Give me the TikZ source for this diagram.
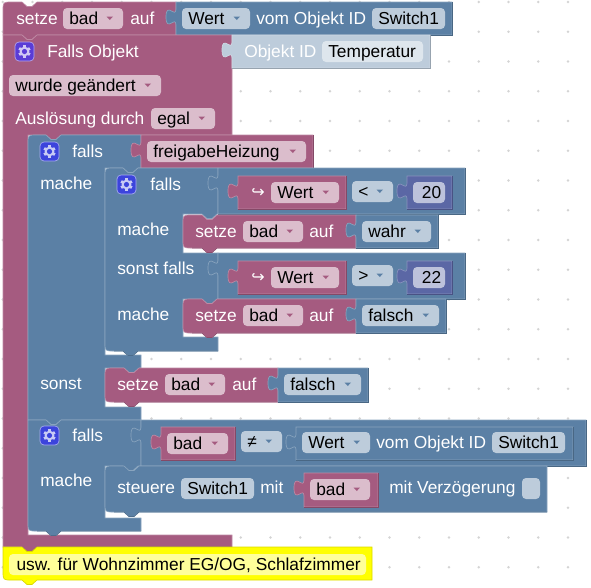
\documentclass[tikz,border=0pt]{standalone}
\usepackage{fontspec}
\setmainfont{Liberation Sans}
\newfontfamily\symfont{DejaVu Sans}
\definecolor{barMaroon}{HTML}{A55B80}
\definecolor{barBlue}{HTML}{5B80A5}
\definecolor{barNum}{HTML}{5B67A5}
\definecolor{barShadow}{HTML}{BDCCDB}
\definecolor{fldMaroon}{HTML}{DBBDCC}
\definecolor{fldBlue}{HTML}{BDCCDB}
\definecolor{fldShadow}{HTML}{DEE6ED}
\definecolor{fldNum}{HTML}{BDC2DB}
\definecolor{noteYellow}{HTML}{FFFF00}
\definecolor{notePale}{HTML}{FFFF99}
\definecolor{gridDot}{HTML}{D4D4D4}
\definecolor{tileOne}{HTML}{5A3CD6}
\definecolor{tileTwo}{HTML}{3C44DC}
\tikzset{
  lbl/.style={anchor=base west, inner sep=0pt, text=white, font=\fontsize{13}{15}\selectfont},
  fieldtxt/.style={anchor=base west, inner sep=0pt, text=black, font=\fontsize{13}{15}\selectfont},
  fieldshape/.style={rounded corners=3pt},
}
\newcommand{\notchR}[2]{-- (#1,#2) -- (#1+5,#2+4.5) -- (#1+10,#2+4.5) -- (#1+15,#2)}
\newcommand{\tabL}[2]{-- (#1+15,#2) -- (#1+10,#2+4.5) -- (#1+5,#2+4.5) -- (#1,#2)}
\newcommand{\valblock}[5]{%
  \draw[fill=#1,draw=#1!72!white,line width=.5pt] (#2,#3) -- (#4,#3) -- (#4,#5) -- (#2,#5) -- (#2,#3+23)
    .. controls (#2,#3+13) and (#2-10,#3+31) .. (#2-10,#3+15)
    .. controls (#2-10,#3-1) and (#2,#3+17) .. (#2,#3+7) -- cycle;
  \draw[#1!80!black,line width=.5pt] (#4,#3) -- (#4,#5) -- (#2,#5);}
\newcommand{\stmtblock}[5]{%
  \draw[fill=#1,draw=#1!72!white,line width=.5pt] (#2,#3+9) .. controls (#2,#3) .. (#2+9,#3)
    \notchR{#2+19}{#3} -- (#4,#3) -- (#4,#5) \tabL{#2+19}{#5} -- (#2+9,#5) .. controls (#2,#5) .. (#2,#5-9) -- cycle;
  \draw[#1!85!black,line width=.5pt] (#4,#5) \tabL{#2+19}{#5} -- (#2+9,#5);}
\newcommand{\dropfield}[7]{%
  \fill[#2,fieldshape] (#4,#5) rectangle (#6,#5+21);
  \node[fieldtxt] (#1) at (#4+6,#5+16) {#7};
  \fill[#3] (#6-16.5,#5+8.5) -- (#6-10,#5+8.5) -- (#6-13.2,#5+12) -- cycle;}
\newcommand{\plainfield}[6]{%
  \fill[#2,fieldshape] (#3,#4) rectangle (#5,#4+21);
  \node[fieldtxt] (#1) at (#3+6,#4+16) {#6};}
\newcommand{\gearicon}[3]{%
  \draw[fill=#3,draw=#3!45!white,line width=.5pt,rounded corners=3pt] (#1,#2) rectangle (#1+19,#2+19);
  \begin{scope}[shift={(#1+9.5,#2+9.5)}]
    \foreach \a in {30,90,150}{\draw[#3!28!white,line width=2.1pt] (\a:6.2) -- (\a+180:6.2);}
    \fill[#3!28!white] (0,0) circle[radius=4.9];
    \fill[#3] (0,0) circle[radius=2.6];
  \end{scope}}

\begin{document}
\begin{tikzpicture}[x=0.75pt,y=-0.75pt]
  \useasboundingbox (0,0) rectangle (591,587);
  \foreach \i in {0,...,19}{\foreach \j in {0,...,19}{
    \fill[gridDot] (568-29.75*\i,2+29.75*\j) circle[radius=1.4];}}

  % top row
  \draw[fill=barMaroon,draw=barMaroon!72!white,line width=.5pt] (3,11) .. controls (3,2) .. (12,2)
    \notchR{22}{2} -- (176,2) -- (176,35) \tabL{22}{35} -- (3,35) -- cycle;
  \node[lbl] (setzeTop) at (16,24) {setze};
  \dropfield{badTop}{fldMaroon}{barMaroon}{63}{8}{123}{bad}
  \node[lbl] (aufTop) at (130,24) {auf};
  \valblock{barBlue}{176}{2}{452}{35}
  \dropfield{wertTop}{fldBlue}{barBlue}{182}{8}{250}{Wert}
  \node[lbl] (vomTop) at (256,24) {vom Objekt ID};
  \plainfield{switchTop}{fldBlue}{372}{8}{445}{Switch1}

  % event block
  \draw[fill=barMaroon,draw=barMaroon!72!white,line width=.5pt] (3,35) \notchR{22}{35} -- (232,35) -- (232,135)
    \tabL{46}{135} -- (28,135) -- (28,535) -- (232,535) -- (232,547) \tabL{22}{547} -- (3,547) -- cycle;
  \draw[barMaroon!80!black,line width=.5pt] (232,547) \tabL{22}{547};
  \gearicon{15}{42}{tileOne}
  \node[lbl] (fallsObj) at (47,57) {Falls Objekt};
  \dropfield{geaendert}{fldMaroon}{barMaroon}{9}{75}{161}{wurde geändert}
  \node[lbl] (ausloes) at (15,124) {Auslösung durch};
  \dropfield{egal}{fldMaroon}{barMaroon}{151}{108}{215}{egal}
  \valblock{barShadow}{232}{35}{430}{68}
  \node[lbl] (objektId) at (244,57) {Objekt ID};
  \plainfield{temperatur}{fldShadow}{322}{41}{423}{Temperatur}

  % outer if/else
  \draw[fill=barBlue,draw=barBlue!72!white,line width=.5pt] (28,144) .. controls (28,135) .. (37,135)
    \notchR{46}{135} -- (141,135) -- (141,168) \tabL{123}{168} -- (105,168) -- (105,355) -- (141,355)
    -- (141,368) \tabL{124}{368} -- (105,368) -- (105,407) -- (141,407) -- (141,420) \tabL{46}{420} -- (28,420) -- cycle;
  \gearicon{40}{142}{tileTwo}
  \node[lbl] (fallsA) at (72,157) {falls};
  \node[lbl] (macheA) at (40,189) {mache};
  \node[lbl] (sonstA) at (40,389) {sonst};
  \valblock{barMaroon}{141}{135}{313}{168}
  \dropfield{freigabe}{fldMaroon}{barMaroon}{147}{141}{306}{freigabeHeizung}

  % inner if
  \draw[fill=barBlue,draw=barBlue!72!white,line width=.5pt] (105,177) .. controls (105,168) .. (114,168)
    \notchR{123}{168} -- (218,168) -- (218,214) \tabL{202}{214} -- (183,214) -- (183,253) -- (218,253)
    -- (218,299) \tabL{202}{299} -- (183,299) -- (183,337) -- (218,337) -- (218,351) \tabL{123}{351}
    -- (114,351) .. controls (105,351) .. (105,342) -- cycle;
  \draw[barBlue!85!black,line width=.5pt] (218,351) \tabL{123}{351} -- (114,351);
  \gearicon{117}{175}{tileTwo}
  \node[lbl] (fallsB) at (150,190) {falls};
  \node[lbl] (macheB) at (117,235) {mache};
  \node[lbl] (sonstB) at (117,274) {sonst falls};
  \node[lbl] (macheC) at (117,320) {mache};

  % first compare
  \valblock{barBlue}{218}{168}{465}{214}
  \valblock{barMaroon}{238}{176}{346}{209}
  \node[lbl,font=\symfont\fontsize{12}{15}\selectfont] (hookA) at (251,197) {↪};
  \dropfield{wertA}{fldMaroon}{barMaroon}{271}{182}{339}{Wert}
  \dropfield{ltOp}{fldBlue}{barBlue}{352}{181}{393}{<}
  \valblock{barNum}{407}{176}{452}{209}
  \plainfield{numA}{fldNum}{413}{182}{445}{\hspace{2pt}20}

  % setze bad auf wahr
  \stmtblock{barMaroon}{183}{215}{356}{248}
  \node[lbl] (setzeA) at (195,237) {setze};
  \dropfield{badA}{fldMaroon}{barMaroon}{243}{221}{303}{bad}
  \node[lbl] (aufA) at (309,237) {auf};
  \valblock{barBlue}{356}{215}{438}{248}
  \dropfield{wahr}{fldBlue}{barBlue}{362}{221}{431}{wahr}

  % second compare
  \valblock{barBlue}{218}{253}{465}{299}
  \valblock{barMaroon}{238}{261}{346}{294}
  \node[lbl,font=\symfont\fontsize{12}{15}\selectfont] (hookB) at (251,282) {↪};
  \dropfield{wertB}{fldMaroon}{barMaroon}{271}{267}{339}{Wert}
  \dropfield{gtOp}{fldBlue}{barBlue}{352}{265}{393}{>}
  \valblock{barNum}{407}{261}{452}{294}
  \plainfield{numB}{fldNum}{413}{267}{445}{\hspace{2pt}22}

  % setze bad auf falsch
  \stmtblock{barMaroon}{183}{299}{356}{333}
  \node[lbl] (setzeB) at (195,321) {setze};
  \dropfield{badB}{fldMaroon}{barMaroon}{243}{305}{303}{bad}
  \node[lbl] (aufB) at (309,321) {auf};
  \valblock{barBlue}{356}{299}{446}{333}
  \dropfield{falschA}{fldBlue}{barBlue}{362}{305}{439}{falsch}

  % sonst setze
  \stmtblock{barMaroon}{105}{368}{278}{402}
  \node[lbl] (setzeC) at (117,390) {setze};
  \dropfield{badC}{fldMaroon}{barMaroon}{165}{374}{225}{bad}
  \node[lbl] (aufC) at (232,390) {auf};
  \valblock{barBlue}{278}{368}{368}{402}
  \dropfield{falschB}{fldBlue}{barBlue}{284}{374}{361}{falsch}

  % second if
  \draw[fill=barBlue,draw=barBlue!72!white,line width=.5pt] (28,420) \notchR{46}{420} -- (141,420) -- (141,466)
    \tabL{123}{466} -- (105,466) -- (105,518) -- (141,518) -- (141,531) \tabL{46}{531} -- (37,531)
    .. controls (28,531) .. (28,522) -- cycle;
  \draw[barBlue!85!black,line width=.5pt] (141,531) \tabL{46}{531} -- (37,531);
  \gearicon{40}{426}{tileTwo}
  \node[lbl] (fallsC) at (72,441) {falls};
  \node[lbl] (macheD) at (40,486) {mache};
  \valblock{barBlue}{141}{420}{586}{466}
  \valblock{barMaroon}{161}{427}{235}{460}
  \dropfield{badD}{fldMaroon}{barMaroon}{167}{433}{228}{bad}
  \dropfield{neOp}{fldBlue}{barBlue}{241}{431}{282}{≠}
  \valblock{barBlue}{296}{427}{573}{460}
  \dropfield{wertC}{fldBlue}{barBlue}{302}{432}{370}{Wert}
  \node[lbl] (vomC) at (376,448) {vom Objekt ID};
  \plainfield{switchC}{fldBlue}{492}{432}{565}{Switch1}

  % steuere
  \stmtblock{barBlue}{105}{466}{547}{512}
  \node[lbl] (steuere) at (117,493) {steuere};
  \plainfield{switchD}{fldBlue}{181}{478}{254}{Switch1}
  \node[lbl] (mitA) at (260,493) {mit};
  \valblock{barMaroon}{304}{473}{378}{507}
  \dropfield{badE}{fldMaroon}{barMaroon}{310}{479}{370}{bad}
  \node[lbl] (mitB) at (389,493) {mit Verzögerung};
  \fill[fldBlue,fieldshape] (522,478) rectangle (540,499);

  % comment
  \draw[fill=noteYellow,draw=noteYellow!85!black,line width=.5pt] (3,547) \notchR{22}{547} -- (372,547) -- (372,580)
    \tabL{22}{580} -- (12,580) .. controls (3,580) .. (3,571) -- cycle;
  \plainfield{note}{notePale}{9}{554}{366}{\hspace{1pt}usw. für Wohnzimmer EG/OG, Schlafzimmer}
\end{tikzpicture}
\end{document}
